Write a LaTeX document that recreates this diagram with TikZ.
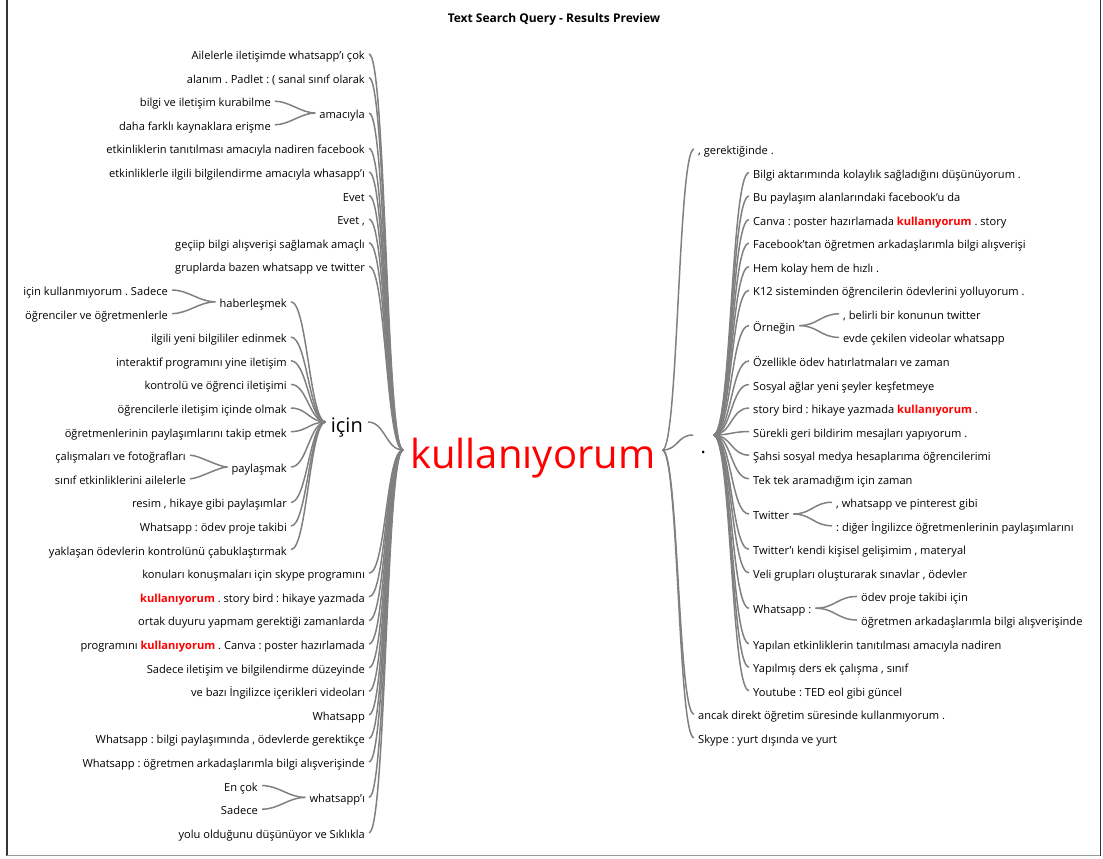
\documentclass[tikz,border=0pt]{standalone}
\usepackage{fontspec}
\setmainfont{Open Sans}
\definecolor{lk}{RGB}{128,128,128}
\definecolor{kred}{RGB}{255,0,0}
\newcommand{\kw}[1]{\textcolor{kred}{\bfseries #1}}
\frenchspacing
\tikzset{
  every node/.style={inner ysep=0pt, inner xsep=4pt, text height=11pt, text depth=0pt, font=\fontsize{11.1}{13}\selectfont\frenchspacing},
  wl/.style={anchor=east},
  wr/.style={anchor=west},
  lnk/.style={draw=lk, line width=1.5pt},
}
\begin{document}
\begin{tikzpicture}[x=1pt,y=-1pt]
\useasboundingbox (0,0) rectangle (1103,859);
% frame
\draw[line width=1.3pt, black!80] (7,0) -- (7,856);
\draw[line width=1.3pt, black!40] (7,855.5) -- (1101,855.5);
\draw[line width=1.3pt, black!80] (1100.8,0) -- (1100.8,856);
% title
\node[font=\fontsize{12}{14}\selectfont\bfseries] (title) at (554,17) {Text Search Query - Results Preview};
% root
\node[anchor=west, minimum width=259pt, inner sep=0pt, text height=36pt, text depth=0pt, font=\fontsize{40}{48}\selectfont, text=kred] (root) at (403,450) {kullanıyorum};

% ---------------- left side ----------------
\node[wl] (l0) at (369,54.0) {Ailelerle iletişimde whatsapp’ı çok};
\node[wl] (l1) at (369,77.6) {alanım . Padlet : ( sanal sınıf olarak};
\node[wl] (a1) at (275,101.2) {bilgi ve iletişim kurabilme};
\node[wl] (a2) at (275,124.8) {daha farklı kaynaklara erişme};
\node[wl] (amac) at (369,113.0) {amacıyla};
\node[wl] (l4) at (369,148.4) {etkinliklerin tanıtılması amacıyla nadiren facebook};
\node[wl] (l5) at (369,172.0) {etkinliklerle ilgili bilgilendirme amacıyla whasapp’ı};
\node[wl] (l6) at (369,195.6) {Evet};
\node[wl] (l7) at (369,219.2) {Evet ,};
\node[wl] (l8) at (369,242.8) {geçiip bilgi alışverişi sağlamak amaçlı};
\node[wl] (l9) at (369,266.4) {gruplarda bazen whatsapp ve twitter};
\node[wl] (h1) at (172,290.0) {için kullanmıyorum . Sadece};
\node[wl] (h2) at (172,313.6) {öğrenciler ve öğretmenlerle};
\node[wl] (haber) at (291,301.8) {haberleşmek};
\node[wl] (c12) at (291,337.2) {ilgili yeni bilgililer edinmek};
\node[wl] (c13) at (291,360.8) {interaktif programını yine iletişim};
\node[wl] (c14) at (291,384.4) {kontrolü ve öğrenci iletişimi};
\node[wl] (c15) at (291,408.0) {öğrencilerle iletişim içinde olmak};
\node[wl] (c16) at (291,431.6) {öğretmenlerinin paylaşımlarını takip etmek};
\node[wl] (p1) at (190,455.2) {çalışmaları ve fotoğrafları};
\node[wl] (p2) at (190,478.8) {sınıf etkinliklerini ailelerle};
\node[wl] (payl) at (291,467.0) {paylaşmak};
\node[wl] (c19) at (291,502.4) {resim , hikaye gibi paylaşımlar};
\node[wl] (c20) at (291,526.0) {Whatsapp : ödev proje takibi};
\node[wl] (c21) at (291,549.6) {yaklaşan ödevlerin kontrolünü çabuklaştırmak};
\node[wl, inner xsep=5pt, text height=20pt, font=\fontsize{20}{24}\selectfont] (icin) at (368,422) {için};
\node[wl] (l22) at (369,573.2) {konuları konuşmaları için skype programını};
\node[wl] (l23) at (369,596.8) {\kw{kullanıyorum} . story bird : hikaye yazmada};
\node[wl] (l24) at (369,620.4) {ortak duyuru yapmam gerektiği zamanlarda};
\node[wl] (l25) at (369,644.0) {programını \kw{kullanıyorum} . Canva : poster hazırlamada};
\node[wl] (l26) at (369,667.6) {Sadece iletişim ve bilgilendirme düzeyinde};
\node[wl] (l27) at (369,691.2) {ve bazı İngilizce içerikleri videoları};
\node[wl] (l28) at (369,714.8) {Whatsapp};
\node[wl] (l29) at (369,738.4) {Whatsapp : bilgi paylaşımında , ödevlerde gerektikçe};
\node[wl] (l30) at (369,762.0) {Whatsapp : öğretmen arkadaşlarımla bilgi alışverişinde};
\node[wl] (w1) at (262,785.6) {En çok};
\node[wl] (w2) at (262,809.2) {Sadece};
\node[wl] (wapp) at (369,797.4) {whatsapp’ı};
\node[wl] (l33) at (369,832.8) {yolu olduğunu düşünüyor ve Sıklıkla};

% ---------------- right side ----------------
\node[wr] (r0) at (694,149.0) {, gerektiğinde .};
\node[anchor=west, minimum width=20pt, inner sep=0pt, text height=36pt, text depth=0pt, font=\fontsize{20}{24}\selectfont] (dot) at (693,435) {.};
\node[wr] (d1) at (749,172.55) {Bilgi aktarımında kolaylık sağladığını düşünüyorum .};
\node[wr] (d2) at (749,196.1) {Bu paylaşım alanlarındaki facebook’u da};
\node[wr] (d3) at (749,219.65) {Canva : poster hazırlamada \kw{kullanıyorum} . story};
\node[wr] (d4) at (749,243.2) {Facebook’tan öğretmen arkadaşlarımla bilgi alışverişi};
\node[wr] (d5) at (749,266.75) {Hem kolay hem de hızlı .};
\node[wr] (d6) at (749,290.3) {K12 sisteminden öğrencilerin ödevlerini yolluyorum .};
\node[wr] (o1) at (839,313.85) {, belirli bir konunun twitter};
\node[wr] (o2) at (839,337.4) {evde çekilen videolar whatsapp};
\node[wr] (orn) at (749,325.6) {Örneğin};
\node[wr] (d9) at (749,360.95) {Özellikle ödev hatırlatmaları ve zaman};
\node[wr] (d10) at (749,384.5) {Sosyal ağlar yeni şeyler keşfetmeye};
\node[wr] (d11) at (749,408.05) {story bird : hikaye yazmada \kw{kullanıyorum} .};
\node[wr] (d12) at (749,431.6) {Sürekli geri bildirim mesajları yapıyorum .};
\node[wr] (d13) at (749,455.15) {Şahsi sosyal medya hesaplarıma öğrencilerimi};
\node[wr] (d14) at (749,478.7) {Tek tek aramadığım için zaman};
\node[wr] (t1) at (832,502.25) {, whatsapp ve pinterest gibi};
\node[wr] (t2) at (832,525.8) {: diğer İngilizce öğretmenlerinin paylaşımlarını};
\node[wr] (twit) at (749,514.0) {Twitter};
\node[wr] (d17) at (749,549.35) {Twitter’ı kendi kişisel gelişimim , materyal};
\node[wr] (d18) at (749,572.9) {Veli grupları oluşturarak sınavlar , ödevler};
\node[wr] (wa1) at (857,596.45) {ödev proje takibi için};
\node[wr] (wa2) at (857,620.0) {öğretmen arkadaşlarımla bilgi alışverişinde};
\node[wr] (whats) at (749,608.2) {Whatsapp :};
\node[wr] (d21) at (749,643.55) {Yapılan etkinliklerin tanıtılması amacıyla nadiren};
\node[wr] (d22) at (749,667.1) {Yapılmış ders ek çalışma , sınıf};
\node[wr] (d23) at (749,690.65) {Youtube : TED eol gibi güncel};
\node[wr] (r24) at (694,714.2) {ancak direkt öğretim süresinde kullanmıyorum .};
\node[wr] (r25) at (694,737.75) {Skype : yurt dışında ve yurt};

% ---------------- connectors ----------------
\foreach \n in {l0,l1,amac,l4,l5,l6,l7,l8,l9,icin,l22,l23,l24,l25,l26,l27,l28,l29,l30,wapp,l33}
  \draw[lnk] (\n.east) to[out=0,in=180,distance=17pt] (root.west);
\foreach \n in {a1,a2} \draw[lnk] (\n.east) to[out=0,in=180,distance=14pt] (amac.west);
\foreach \n in {h1,h2} \draw[lnk] (\n.east) to[out=0,in=180,distance=16pt] (haber.west);
\foreach \n in {p1,p2} \draw[lnk] (\n.east) to[out=0,in=180,distance=9pt] (payl.west);
\foreach \n in {w1,w2} \draw[lnk] (\n.east) to[out=0,in=180,distance=17pt] (wapp.west);
\foreach \n in {haber,c12,c13,c14,c15,c16,payl,c19,c20,c21}
  \draw[lnk] (\n.east) to[out=0,in=180,distance=16pt] (icin.west);

\foreach \n in {r0,dot,r24,r25}
  \draw[lnk] (root.east) to[out=0,in=180,distance=16pt] (\n.west);
\foreach \n in {d1,d2,d3,d4,d5,d6,orn,d9,d10,d11,d12,d13,d14,twit,d17,d18,whats,d21,d22,d23}
  \draw[lnk] (dot.east) to[out=0,in=180,distance=18pt] (\n.west);
\foreach \n in {o1,o2} \draw[lnk] (orn.east) to[out=0,in=180,distance=18pt] (\n.west);
\foreach \n in {t1,t2} \draw[lnk] (twit.east) to[out=0,in=180,distance=18pt] (\n.west);
\foreach \n in {wa1,wa2} \draw[lnk] (whats.east) to[out=0,in=180,distance=19pt] (\n.west);
\end{tikzpicture}
\end{document}
